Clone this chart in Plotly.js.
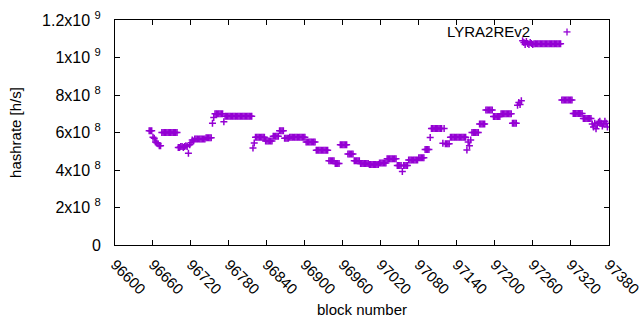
<!DOCTYPE html>
<html>
<head>
<meta charset="utf-8">
<script src="https://cdn.plot.ly/plotly-3.0.1.min.js"></script>
<style>html,body{margin:0;padding:0;background:#fff;}#chart{width:640px;height:330px;}</style>
</head>
<body>
<div id="chart"></div>
<script>
// ---- data ----
const seriesName = 'LYRA2REv2';
const firstBlock = 96654;   // block number of first sample
const blockStep = 2;        // samples every 2 blocks
// hashrate in units of 1e8 h/s
const hashrateE8 = [
  // 96654
  6.1, 6.1, 6.1, 5.75, 5.7, 5.5, 5.45, 5.4, 5.3, 5.3,
  // 96674
  6.0, 6.0, 6.0, 6.0, 6.0, 6.0, 6.0, 6.0, 6.0, 6.0, 6.0, 6.0, 6.0,
  // 96700
  5.2, 5.2, 5.25, 5.25, 5.2, 5.25, 5.3, 5.25, 4.9, 5.35,
  // 96720
  5.45, 5.6, 5.55,
  // 96726
  5.65, 5.65, 5.65, 5.65, 5.65, 5.65, 5.65, 5.65, 5.65,
  // 96744
  5.72, 5.72, 5.72, 5.72, 5.72,
  // 96754
  6.5, 6.8,
  // 96758
  7.0, 7.0, 7.0, 7.0, 7.0, 7.0, 7.0,
  // 96772
  6.57,
  // 96774
  6.87, 6.87, 6.87, 6.87, 6.87, 6.87, 6.87, 6.87, 6.87, 6.87, 6.87,
  6.87, 6.87, 6.87, 6.87, 6.87, 6.87, 6.87, 6.87, 6.87, 6.87, 6.87,
  // 96818
  5.18, 5.44,
  // 96822
  5.75, 5.75, 5.75, 5.75, 5.75, 5.75, 5.75, 5.75,
  // 96838
  5.55, 5.55, 5.55, 5.55, 5.55, 5.55,
  // 96850
  5.8, 5.8, 5.8, 5.8, 5.8,
  // 96860
  6.1, 6.1, 6.1, 6.1,
  // 96868
  5.7, 5.7, 5.7, 5.7,
  // 96876
  5.75, 5.75, 5.75, 5.75, 5.75, 5.75, 5.75, 5.75, 5.75, 5.75, 5.75, 5.75, 5.75,
  // 96902
  5.5, 5.5, 5.5, 5.5, 5.5, 5.5, 5.5, 5.5,
  // 96918
  5.05, 5.05, 5.05, 5.05, 5.05, 5.05, 5.05, 5.05, 5.05, 5.05,
  // 96938
  4.5, 4.5, 4.5, 4.5, 4.5,
  // 96948
  4.35, 4.35, 4.35, 4.35,
  // 96956
  5.35, 5.35, 5.35, 5.35, 5.35, 5.35,
  // 96968
  4.85, 4.85, 4.85, 4.85, 4.85,
  // 96978
  4.5, 4.5, 4.5, 4.5, 4.5,
  // 96988
  4.35, 4.35, 4.35, 4.35, 4.35, 4.35, 4.35,
  // 97002
  4.3, 4.3, 4.3, 4.3, 4.3, 4.3, 4.3, 4.3,
  // 97018
  4.37, 4.37, 4.37, 4.37, 4.37, 4.37,
  // 97030
  4.6, 4.6, 4.6, 4.6, 4.6, 4.6, 4.6, 4.6,
  // 97046
  4.24, 4.24, 4.24, 4.24, 3.92, 4.24, 4.24, 4.24, 4.24,
  // 97064
  4.54, 4.54, 4.54, 4.54, 4.54, 4.54, 4.54, 4.54,
  // 97080
  4.66, 4.66, 4.66, 4.66, 4.66,
  // 97090
  5.1, 5.1, 5.1, 5.1,
  // 97098
  5.73,
  // 97100
  6.22, 6.22, 6.22, 6.22, 6.22, 6.22, 6.22, 6.22, 6.22,
  // 97118
  5.43, 6.22,
  // 97122
  5.4, 5.4, 5.4, 5.4,
  // 97130
  5.75, 5.75, 5.75, 5.75, 5.75, 5.75, 5.75, 5.75, 5.75, 5.75, 5.75, 5.75, 5.75,
  // 97156
  5.07, 5.5, 5.3, 5.6,
  // 97164
  6.0, 6.0, 6.0, 6.0, 6.0, 6.0,
  // 97176
  6.45, 6.45, 6.45, 6.45, 6.45,
  // 97186
  7.2, 7.2, 7.2, 7.2, 7.2, 7.2,
  // 97198
  6.85, 6.85, 6.85, 6.85, 6.85, 6.85,
  // 97210
  7.0, 7.0, 7.0, 7.0, 7.0, 7.0, 7.0, 7.0, 7.0,
  // 97228
  6.5, 6.5, 6.5, 6.5,
  // 97236
  7.45, 7.6, 7.5, 7.7,
  // 97244
  10.9,
  // 97246
  10.8, 10.7, 10.85, 10.75, 10.7, 10.8, 10.75, 10.7, 10.74,
  // 97264
  10.74, 10.74, 10.74, 10.74, 10.74, 10.74, 10.74, 10.74, 10.74, 10.74, 10.74,
  10.74, 10.74, 10.74, 10.74, 10.74, 10.74, 10.74, 10.74, 10.74, 10.74,
  // 97306
  7.73, 7.73, 7.73, 7.73, 7.73, 7.73, 7.73, 7.73, 7.73,
  // 97324
  7.02, 7.02, 7.02, 7.02, 7.02, 7.02, 7.02, 7.02,
  // 97340
  6.75, 6.75, 6.75, 6.75, 6.75, 6.75, 6.75,
  // 97354
  6.45, 6.3, 6.5, 6.2, 6.4, 6.55, 6.6, 6.5, 6.35, 6.45, 6.6, 6.5, 6.3
];

const xTickVals = [96600, 96660, 96720, 96780, 96840, 96900, 96960, 97020, 97080, 97140, 97200, 97260, 97320, 97380];
const xTickText = ['96600', '96660', '96720', '96780', '96840', '96900', '96960', '97020', '97080', '97140', '97200', '97260', '97320', '97380'];
const yTickVals = [0, 2e8, 4e8, 6e8, 8e8, 1e9, 1.2e9];
const yTickText = ['0', '2x10 <sup>8</sup>', '4x10 <sup>8</sup>', '6x10 <sup>8</sup>', '8x10 <sup>8</sup>', '1x10 <sup>9</sup>', '1.2x10 <sup>9</sup>'];
const xTitle = 'block number';
const yTitle = 'hashrate [h/s]';

// ---- chart ----
const purple = '#9400d3';
const font = {family: 'Liberation Sans, Arial, sans-serif', size: 15, color: '#000'};
const yTickFont = {family: 'Liberation Sans, Arial, sans-serif', size: 16, color: '#000'};

const trace = {
  type: 'scatter',
  mode: 'markers',
  name: seriesName,
  x0: firstBlock,
  dx: blockStep,
  y: hashrateE8.map(v => v * 1e8),
  marker: {symbol: 'cross-thin-open', size: 5, color: purple, line: {color: purple, width: 1.5}},
  showlegend: false,
  hoverinfo: 'skip'
};

const axisCommon = {
  showline: true, mirror: 'allticks', linecolor: '#000', linewidth: 1,
  ticks: 'inside', ticklen: 5, tickcolor: '#000', tickwidth: 1,
  showgrid: false, zeroline: false, tickfont: font
};

const layout = {
  width: 640, height: 330,
  margin: {l: 115, r: 31, t: 20, b: 85},
  paper_bgcolor: '#fff', plot_bgcolor: '#fff',
  font: font,
  xaxis: Object.assign({}, axisCommon, {
    range: [96600, 97380.5], tickmode: 'array', tickvals: xTickVals, ticktext: xTickText,
    tickangle: 45, ticklabelstandoff: 4, ticklabeloverflow: 'allow',
    title: {text: xTitle, font: font, standoff: 8}
  }),
  yaxis: Object.assign({}, axisCommon, {
    range: [0, 1.2e9], tickmode: 'array', tickvals: yTickVals, ticktext: yTickText,
    ticklabelstandoff: 10, tickfont: yTickFont,
    title: {text: yTitle, font: font, standoff: 16}
  }),
  annotations: [{
    xref: 'paper', yref: 'paper', x: 0.844, y: 0.947, xanchor: 'right', yanchor: 'middle',
    text: seriesName, showarrow: false, font: font
  }],
  shapes: [
    {type: 'line', xref: 'paper', yref: 'paper', xsizemode: 'pixel', ysizemode: 'pixel',
     xanchor: 0.915, yanchor: 0.947, x0: -3.5, x1: 3.5, y0: 0, y1: 0, line: {color: purple, width: 1.3}},
    {type: 'line', xref: 'paper', yref: 'paper', xsizemode: 'pixel', ysizemode: 'pixel',
     xanchor: 0.915, yanchor: 0.947, x0: 0, x1: 0, y0: -3.5, y1: 3.5, line: {color: purple, width: 1.3}}
  ]
};

Plotly.newPlot('chart', [trace], layout, {displayModeBar: false, staticPlot: true});
</script>
</body>
</html>
